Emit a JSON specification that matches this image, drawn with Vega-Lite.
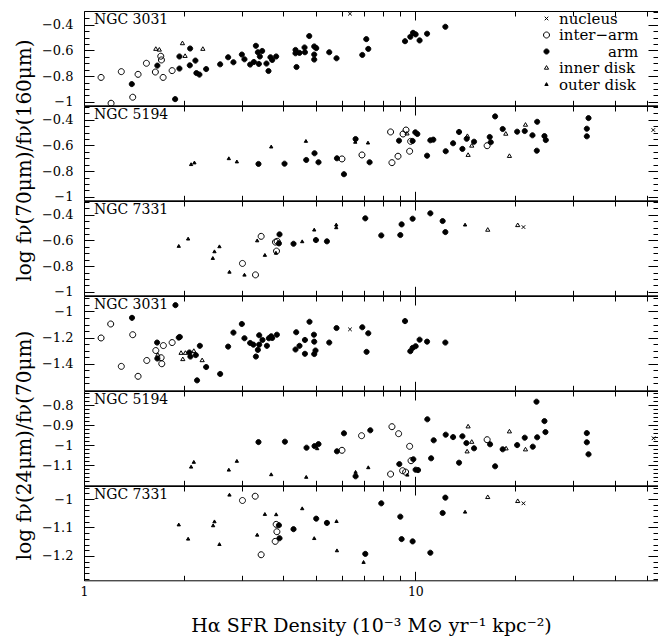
{
"$schema":"https://vega.github.io/schema/vega-lite/v6.json",
"padding":{"left":13,"right":1,"top":9,"bottom":0},
"background":"white",
"spacing":0,
"bounds":"flush",
"config":{"view":{"stroke":"black","strokeWidth":1},"axis":{"grid":false,"domain":false,"tickColor":"black","tickWidth":1,"labelColor":"black","titleColor":"black","labelFont":"DejaVu Serif","titleFont":"DejaVu Serif","titleFontWeight":"normal","labelOverlap":false,"labelBound":false}},
"resolve":{"scale":{"x":"independent","y":"independent","shape":"independent","fill":"independent"}},
"datasets":{"pts":[
{"p":1,"t":"inter−arm","x":1.126,"y":-0.81},{"p":1,"t":"inter−arm","x":1.207,"y":-1.011},{"p":1,"t":"inter−arm","x":1.296,"y":-0.765},{"p":1,"t":"inter−arm","x":1.403,"y":-0.964},{"p":1,"t":"inter−arm","x":1.456,"y":-0.786},{"p":1,"t":"inter−arm","x":1.543,"y":-0.7},{"p":1,"t":"inter−arm","x":1.642,"y":-0.768},{"p":1,"t":"inter−arm","x":1.705,"y":-0.645},{"p":1,"t":"inter−arm","x":1.713,"y":-0.674},{"p":1,"t":"inter−arm","x":1.733,"y":-0.81},{"p":1,"t":"inter−arm","x":1.845,"y":-0.757},
{"p":1,"t":"arm","x":1.394,"y":-0.862},{"p":1,"t":"arm","x":1.665,"y":-0.718},{"p":1,"t":"arm","x":1.884,"y":-0.979},{"p":1,"t":"arm","x":1.941,"y":-0.741},{"p":1,"t":"arm","x":1.941,"y":-0.647},{"p":1,"t":"arm","x":2.091,"y":-0.585},{"p":1,"t":"arm","x":2.086,"y":-0.716},{"p":1,"t":"arm","x":2.169,"y":-0.679},{"p":1,"t":"arm","x":2.184,"y":-0.776},{"p":1,"t":"arm","x":2.23,"y":-0.788},{"p":1,"t":"arm","x":2.337,"y":-0.745},{"p":1,"t":"arm","x":2.576,"y":-0.708},{"p":1,"t":"arm","x":2.723,"y":-0.653},{"p":1,"t":"arm","x":2.825,"y":-0.692},{"p":1,"t":"arm","x":2.995,"y":-0.632},{"p":1,"t":"arm","x":3.05,"y":-0.669},{"p":1,"t":"arm","x":3.173,"y":-0.71},{"p":1,"t":"arm","x":3.256,"y":-0.69},{"p":1,"t":"arm","x":3.302,"y":-0.564},{"p":1,"t":"arm","x":3.348,"y":-0.614},{"p":1,"t":"arm","x":3.371,"y":-0.705},{"p":1,"t":"arm","x":3.394,"y":-0.647},{"p":1,"t":"arm","x":3.449,"y":-0.604},{"p":1,"t":"arm","x":3.554,"y":-0.702},{"p":1,"t":"arm","x":3.604,"y":-0.76},{"p":1,"t":"arm","x":3.654,"y":-0.653},{"p":1,"t":"arm","x":3.698,"y":-0.674},{"p":1,"t":"arm","x":3.802,"y":-0.647},{"p":1,"t":"arm","x":4.349,"y":-0.596},{"p":1,"t":"arm","x":4.349,"y":-0.622},{"p":1,"t":"arm","x":4.379,"y":-0.729},{"p":1,"t":"arm","x":4.471,"y":-0.619},{"p":1,"t":"arm","x":4.63,"y":-0.577},{"p":1,"t":"arm","x":4.643,"y":-0.614},{"p":1,"t":"arm","x":4.784,"y":-0.488},{"p":1,"t":"arm","x":4.953,"y":-0.569},{"p":1,"t":"arm","x":4.953,"y":-0.632},{"p":1,"t":"arm","x":4.953,"y":-0.671},{"p":1,"t":"arm","x":5.022,"y":-0.582},{"p":1,"t":"arm","x":5.498,"y":-0.614},{"p":1,"t":"arm","x":5.783,"y":-0.661},{"p":1,"t":"arm","x":6.917,"y":-0.635},{"p":1,"t":"arm","x":7.112,"y":-0.512},{"p":1,"t":"arm","x":7.211,"y":-0.588},{"p":1,"t":"arm","x":9.309,"y":-0.528},{"p":1,"t":"arm","x":9.658,"y":-0.494},{"p":1,"t":"arm","x":9.842,"y":-0.463},{"p":1,"t":"arm","x":10.02,"y":-0.475},{"p":1,"t":"arm","x":10.3,"y":-0.522},{"p":1,"t":"arm","x":10.85,"y":-0.47},{"p":1,"t":"arm","x":12.32,"y":-0.416},
{"p":1,"t":"inner disk","x":1.647,"y":-0.59},{"p":1,"t":"inner disk","x":1.688,"y":-0.596},{"p":1,"t":"inner disk","x":1.982,"y":-0.546},{"p":1,"t":"inner disk","x":2.019,"y":-0.645},{"p":1,"t":"inner disk","x":2.284,"y":-0.59},
{"p":1,"t":"nucleus","x":6.35,"y":-0.314},
{"p":2,"t":"outer disk","x":2.105,"y":-0.749},{"p":2,"t":"outer disk","x":2.154,"y":-0.736},{"p":2,"t":"outer disk","x":2.736,"y":-0.703},{"p":2,"t":"outer disk","x":2.893,"y":-0.728},{"p":2,"t":"outer disk","x":3.673,"y":-0.612},{"p":2,"t":"outer disk","x":4.675,"y":-0.568},{"p":2,"t":"outer disk","x":6.588,"y":-0.575},{"p":2,"t":"outer disk","x":7.196,"y":-0.581},
{"p":2,"t":"arm","x":3.362,"y":-0.744},{"p":2,"t":"arm","x":4.029,"y":-0.742},{"p":2,"t":"arm","x":4.685,"y":-0.713},{"p":2,"t":"arm","x":4.963,"y":-0.661},{"p":2,"t":"arm","x":5.102,"y":-0.731},{"p":2,"t":"arm","x":5.8,"y":-0.7},{"p":2,"t":"arm","x":6.09,"y":-0.824},{"p":2,"t":"arm","x":6.602,"y":-0.55},{"p":2,"t":"arm","x":7.277,"y":-0.731},{"p":2,"t":"arm","x":8.928,"y":-0.563},{"p":2,"t":"arm","x":9.813,"y":-0.565},{"p":2,"t":"arm","x":10.0,"y":-0.498},{"p":2,"t":"arm","x":10.14,"y":-0.511},{"p":2,"t":"arm","x":10.85,"y":-0.68},{"p":2,"t":"arm","x":11.1,"y":-0.56},{"p":2,"t":"arm","x":11.33,"y":-0.555},{"p":2,"t":"arm","x":12.35,"y":-0.645},{"p":2,"t":"arm","x":13.0,"y":-0.583},{"p":2,"t":"arm","x":13.55,"y":-0.495},{"p":2,"t":"arm","x":13.87,"y":-0.627},{"p":2,"t":"arm","x":14.29,"y":-0.548},{"p":2,"t":"arm","x":15.04,"y":-0.571},{"p":2,"t":"arm","x":16.77,"y":-0.534},{"p":2,"t":"arm","x":16.89,"y":-0.575},{"p":2,"t":"arm","x":17.41,"y":-0.374},{"p":2,"t":"arm","x":18.35,"y":-0.472},{"p":2,"t":"arm","x":20.29,"y":-0.493},{"p":2,"t":"arm","x":21.39,"y":-0.488},{"p":2,"t":"arm","x":22.57,"y":-0.521},{"p":2,"t":"arm","x":23.26,"y":-0.641},{"p":2,"t":"arm","x":23.32,"y":-0.416},{"p":2,"t":"arm","x":24.53,"y":-0.527},{"p":2,"t":"arm","x":24.76,"y":-0.558},{"p":2,"t":"arm","x":33.32,"y":-0.387},{"p":2,"t":"arm","x":32.93,"y":-0.47},{"p":2,"t":"arm","x":32.93,"y":-0.529},
{"p":2,"t":"inter−arm","x":6.006,"y":-0.705},{"p":2,"t":"inter−arm","x":6.902,"y":-0.674},{"p":2,"t":"inter−arm","x":8.42,"y":-0.495},{"p":2,"t":"inter−arm","x":8.5,"y":-0.734},{"p":2,"t":"inter−arm","x":8.866,"y":-0.684},{"p":2,"t":"inter−arm","x":9.18,"y":-0.511},{"p":2,"t":"inter−arm","x":9.373,"y":-0.48},{"p":2,"t":"inter−arm","x":9.612,"y":-0.645},{"p":2,"t":"inter−arm","x":9.679,"y":-0.568},{"p":2,"t":"inter−arm","x":16.47,"y":-0.602},
{"p":2,"t":"inner disk","x":9.438,"y":-0.509},{"p":2,"t":"inner disk","x":14.36,"y":-0.529},{"p":2,"t":"inner disk","x":14.8,"y":-0.604},{"p":2,"t":"inner disk","x":14.43,"y":-0.676},{"p":2,"t":"inner disk","x":18.75,"y":-0.511},{"p":2,"t":"inner disk","x":19.23,"y":-0.684},{"p":2,"t":"inner disk","x":21.5,"y":-0.441},
{"p":2,"t":"nucleus","x":52.26,"y":-0.48},
{"p":3,"t":"outer disk","x":1.932,"y":-0.646},{"p":3,"t":"outer disk","x":2.062,"y":-0.589},{"p":3,"t":"outer disk","x":2.448,"y":-0.74},{"p":3,"t":"outer disk","x":2.476,"y":-0.688},{"p":3,"t":"outer disk","x":2.563,"y":-0.649},{"p":3,"t":"outer disk","x":2.748,"y":-0.847},{"p":3,"t":"outer disk","x":3.05,"y":-0.87},{"p":3,"t":"outer disk","x":3.332,"y":-0.603},{"p":3,"t":"outer disk","x":3.515,"y":-0.716},{"p":3,"t":"outer disk","x":3.795,"y":-0.699},{"p":3,"t":"outer disk","x":4.556,"y":-0.61},{"p":3,"t":"outer disk","x":4.953,"y":-0.519},{"p":3,"t":"outer disk","x":5.772,"y":-0.48},{"p":3,"t":"outer disk","x":5.772,"y":-0.501},{"p":3,"t":"outer disk","x":14.13,"y":-0.48},
{"p":3,"t":"inter−arm","x":3.008,"y":-0.779},{"p":3,"t":"inter−arm","x":3.293,"y":-0.868},{"p":3,"t":"inter−arm","x":3.425,"y":-0.568},{"p":3,"t":"inter−arm","x":3.784,"y":-0.613},{"p":3,"t":"inter−arm","x":3.811,"y":-0.683},{"p":3,"t":"inter−arm","x":3.83,"y":-0.607},
{"p":3,"t":"arm","x":3.891,"y":-0.553},{"p":3,"t":"arm","x":3.875,"y":-0.623},{"p":3,"t":"arm","x":4.289,"y":-0.626},{"p":3,"t":"arm","x":5.012,"y":-0.597},{"p":3,"t":"arm","x":5.41,"y":-0.607},{"p":3,"t":"arm","x":7.063,"y":-0.428},{"p":3,"t":"arm","x":7.893,"y":-0.561},{"p":3,"t":"arm","x":9.009,"y":-0.558},{"p":3,"t":"arm","x":9.091,"y":-0.475},{"p":3,"t":"arm","x":9.813,"y":-0.431},{"p":3,"t":"arm","x":11.1,"y":-0.389},{"p":3,"t":"arm","x":12.09,"y":-0.449},{"p":3,"t":"arm","x":12.32,"y":-0.535},
{"p":3,"t":"inner disk","x":16.54,"y":-0.519},{"p":3,"t":"inner disk","x":20.37,"y":-0.483},
{"p":3,"t":"nucleus","x":21.2,"y":-0.496},
{"p":4,"t":"inter−arm","x":1.126,"y":-1.203},{"p":4,"t":"inter−arm","x":1.204,"y":-1.096},{"p":4,"t":"inter−arm","x":1.296,"y":-1.42},{"p":4,"t":"inter−arm","x":1.403,"y":-1.178},{"p":4,"t":"inter−arm","x":1.456,"y":-1.496},{"p":4,"t":"inter−arm","x":1.547,"y":-1.375},{"p":4,"t":"inter−arm","x":1.647,"y":-1.299},{"p":4,"t":"inter−arm","x":1.709,"y":-1.354},{"p":4,"t":"inter−arm","x":1.717,"y":-1.4},{"p":4,"t":"inter−arm","x":1.736,"y":-1.261},{"p":4,"t":"inter−arm","x":1.845,"y":-1.238},
{"p":4,"t":"arm","x":1.396,"y":-1.049},{"p":4,"t":"arm","x":1.888,"y":-0.952},{"p":4,"t":"arm","x":1.662,"y":-1.238},{"p":4,"t":"arm","x":1.665,"y":-1.36},{"p":4,"t":"arm","x":1.932,"y":-1.2},{"p":4,"t":"arm","x":1.946,"y":-1.195},{"p":4,"t":"arm","x":2.08,"y":-1.314},{"p":4,"t":"arm","x":2.095,"y":-1.345},{"p":4,"t":"arm","x":2.175,"y":-1.334},{"p":4,"t":"arm","x":2.237,"y":-1.263},{"p":4,"t":"arm","x":2.337,"y":-1.425},{"p":4,"t":"arm","x":2.194,"y":-1.527},{"p":4,"t":"arm","x":2.576,"y":-1.478},{"p":4,"t":"arm","x":2.723,"y":-1.269},{"p":4,"t":"arm","x":2.825,"y":-1.162},{"p":4,"t":"arm","x":2.995,"y":-1.096},{"p":4,"t":"arm","x":3.05,"y":-1.205},{"p":4,"t":"arm","x":3.173,"y":-1.241},{"p":4,"t":"arm","x":3.246,"y":-1.254},{"p":4,"t":"arm","x":3.302,"y":-1.345},{"p":4,"t":"arm","x":3.348,"y":-1.294},{"p":4,"t":"arm","x":3.379,"y":-1.182},{"p":4,"t":"arm","x":3.379,"y":-1.254},{"p":4,"t":"arm","x":3.457,"y":-1.218},{"p":4,"t":"arm","x":3.565,"y":-1.263},{"p":4,"t":"arm","x":3.614,"y":-1.205},{"p":4,"t":"arm","x":3.673,"y":-1.19},{"p":4,"t":"arm","x":3.698,"y":-1.203},{"p":4,"t":"arm","x":3.821,"y":-1.178},{"p":4,"t":"arm","x":4.37,"y":-1.159},{"p":4,"t":"arm","x":4.349,"y":-1.291},{"p":4,"t":"arm","x":4.471,"y":-1.263},{"p":4,"t":"arm","x":4.643,"y":-1.218},{"p":4,"t":"arm","x":4.643,"y":-1.324},{"p":4,"t":"arm","x":4.793,"y":-1.079},{"p":4,"t":"arm","x":4.943,"y":-1.178},{"p":4,"t":"arm","x":4.953,"y":-1.231},{"p":4,"t":"arm","x":4.997,"y":-1.299},{"p":4,"t":"arm","x":4.953,"y":-1.326},{"p":4,"t":"arm","x":5.498,"y":-1.238},{"p":4,"t":"arm","x":5.783,"y":-1.127},{"p":4,"t":"arm","x":6.917,"y":-1.121},{"p":4,"t":"arm","x":7.211,"y":-1.167},{"p":4,"t":"arm","x":7.126,"y":-1.309},{"p":4,"t":"arm","x":9.309,"y":-1.074},{"p":4,"t":"arm","x":9.658,"y":-1.304},{"p":4,"t":"arm","x":9.813,"y":-1.279},{"p":4,"t":"arm","x":10.02,"y":-1.266},{"p":4,"t":"arm","x":10.3,"y":-1.216},{"p":4,"t":"arm","x":10.85,"y":-1.231},{"p":4,"t":"arm","x":12.32,"y":-1.238},
{"p":4,"t":"inner disk","x":1.67,"y":-1.334},{"p":4,"t":"inner disk","x":1.963,"y":-1.319},{"p":4,"t":"inner disk","x":1.987,"y":-1.367},{"p":4,"t":"inner disk","x":2.023,"y":-1.319},{"p":4,"t":"inner disk","x":2.145,"y":-1.304},{"p":4,"t":"inner disk","x":2.273,"y":-1.375},
{"p":4,"t":"nucleus","x":6.35,"y":-1.137},
{"p":5,"t":"outer disk","x":2.105,"y":-1.109},{"p":5,"t":"outer disk","x":2.145,"y":-1.085},{"p":5,"t":"outer disk","x":2.736,"y":-1.124},{"p":5,"t":"outer disk","x":2.893,"y":-1.08},{"p":5,"t":"outer disk","x":3.673,"y":-1.147},{"p":5,"t":"outer disk","x":4.685,"y":-1.16},{"p":5,"t":"outer disk","x":5.057,"y":-1.017},{"p":5,"t":"outer disk","x":6.602,"y":-1.135},{"p":5,"t":"outer disk","x":7.211,"y":-1.112},{"p":5,"t":"outer disk","x":9.459,"y":-1.149},
{"p":5,"t":"arm","x":3.362,"y":-0.984},{"p":5,"t":"arm","x":4.04,"y":-0.982},{"p":5,"t":"arm","x":4.695,"y":-1.012},{"p":5,"t":"arm","x":4.963,"y":-1.004},{"p":5,"t":"arm","x":5.102,"y":-0.994},{"p":5,"t":"arm","x":5.8,"y":-1.03},{"p":5,"t":"arm","x":6.09,"y":-0.94},{"p":5,"t":"arm","x":6.602,"y":-1.155},{"p":5,"t":"arm","x":7.313,"y":-0.925},{"p":5,"t":"arm","x":8.946,"y":-1.094},{"p":5,"t":"arm","x":9.862,"y":-1.07},{"p":5,"t":"arm","x":10.02,"y":-1.122},{"p":5,"t":"arm","x":10.19,"y":-1.124},{"p":5,"t":"arm","x":10.87,"y":-0.87},{"p":5,"t":"arm","x":11.16,"y":-1.065},{"p":5,"t":"arm","x":11.36,"y":-0.975},{"p":5,"t":"arm","x":12.35,"y":-0.947},{"p":5,"t":"arm","x":13.0,"y":-0.959},{"p":5,"t":"arm","x":13.55,"y":-1.087},{"p":5,"t":"arm","x":13.87,"y":-0.955},{"p":5,"t":"arm","x":14.26,"y":-0.989},{"p":5,"t":"arm","x":15.04,"y":-1.015},{"p":5,"t":"arm","x":16.81,"y":-0.995},{"p":5,"t":"arm","x":17.41,"y":-1.105},{"p":5,"t":"arm","x":18.35,"y":-1.02},{"p":5,"t":"arm","x":20.29,"y":-0.999},{"p":5,"t":"arm","x":21.39,"y":-0.962},{"p":5,"t":"arm","x":22.62,"y":-1.007},{"p":5,"t":"arm","x":23.21,"y":-0.782},{"p":5,"t":"arm","x":23.32,"y":-0.96},{"p":5,"t":"arm","x":24.53,"y":-0.879},{"p":5,"t":"arm","x":24.7,"y":-0.934},{"p":5,"t":"arm","x":32.93,"y":-0.939},{"p":5,"t":"arm","x":32.93,"y":-0.985},{"p":5,"t":"arm","x":33.32,"y":-1.045},
{"p":5,"t":"inter−arm","x":6.006,"y":-1.025},{"p":5,"t":"inter−arm","x":6.882,"y":-0.952},{"p":5,"t":"inter−arm","x":8.5,"y":-0.907},{"p":5,"t":"inter−arm","x":8.903,"y":-0.942},{"p":5,"t":"inter−arm","x":8.42,"y":-1.144},{"p":5,"t":"inter−arm","x":9.612,"y":-1.005},{"p":5,"t":"inter−arm","x":9.706,"y":-1.077},{"p":5,"t":"inter−arm","x":9.155,"y":-1.127},{"p":5,"t":"inter−arm","x":9.348,"y":-1.134},{"p":5,"t":"inter−arm","x":16.47,"y":-0.972},
{"p":5,"t":"inner disk","x":14.43,"y":-0.907},{"p":5,"t":"inner disk","x":14.8,"y":-0.984},{"p":5,"t":"inner disk","x":14.33,"y":-1.032},{"p":5,"t":"inner disk","x":18.79,"y":-1.017},{"p":5,"t":"inner disk","x":19.23,"y":-0.932},{"p":5,"t":"inner disk","x":21.5,"y":-1.022},
{"p":5,"t":"nucleus","x":52.36,"y":-0.965},
{"p":6,"t":"outer disk","x":1.932,"y":-1.091},{"p":6,"t":"outer disk","x":2.062,"y":-1.141},{"p":6,"t":"outer disk","x":2.453,"y":-1.094},{"p":6,"t":"outer disk","x":2.476,"y":-1.08},{"p":6,"t":"outer disk","x":2.563,"y":-1.16},{"p":6,"t":"outer disk","x":2.748,"y":-0.986},{"p":6,"t":"outer disk","x":3.332,"y":-1.127},{"p":6,"t":"outer disk","x":3.515,"y":-1.054},{"p":6,"t":"outer disk","x":3.802,"y":-1.055},{"p":6,"t":"outer disk","x":4.556,"y":-1.034},{"p":6,"t":"outer disk","x":4.953,"y":-1.139},{"p":6,"t":"outer disk","x":5.783,"y":-1.079},{"p":6,"t":"outer disk","x":5.8,"y":-1.182},{"p":6,"t":"outer disk","x":6.979,"y":-1.223},{"p":6,"t":"outer disk","x":14.13,"y":-1.046},
{"p":6,"t":"inter−arm","x":3.008,"y":-1.005},{"p":6,"t":"inter−arm","x":3.286,"y":-0.99},{"p":6,"t":"inter−arm","x":3.425,"y":-1.196},{"p":6,"t":"inter−arm","x":3.802,"y":-1.089},{"p":6,"t":"inter−arm","x":3.821,"y":-1.115},{"p":6,"t":"inter−arm","x":3.776,"y":-1.149},
{"p":6,"t":"arm","x":3.875,"y":-1.092},{"p":6,"t":"arm","x":3.891,"y":-1.138},{"p":6,"t":"arm","x":4.289,"y":-1.106},{"p":6,"t":"arm","x":5.022,"y":-1.069},{"p":6,"t":"arm","x":5.41,"y":-1.084},{"p":6,"t":"arm","x":7.063,"y":-1.193},{"p":6,"t":"arm","x":7.893,"y":-1.015},{"p":6,"t":"arm","x":9.009,"y":-1.062},{"p":6,"t":"arm","x":9.091,"y":-1.141},{"p":6,"t":"arm","x":9.813,"y":-1.149},{"p":6,"t":"arm","x":11.1,"y":-1.189},{"p":6,"t":"arm","x":12.09,"y":-1.049},{"p":6,"t":"arm","x":12.32,"y":-0.995},
{"p":6,"t":"inner disk","x":16.54,"y":-0.994},{"p":6,"t":"inner disk","x":20.37,"y":-1.008},
{"p":6,"t":"nucleus","x":21.2,"y":-1.015}
]},
"vconcat":[
{"width":574,"height":94.3,"resolve":{"axis":{"x":"independent","y":"independent"}},"layer":[
{"data":{"name":"pts"},"transform":[{"filter":"datum.p==1"}],"mark":{"type":"point","filled":true,"opacity":1,"stroke":"black","strokeWidth":1,"size":36},
"encoding":{
"x":{"field":"x","type":"quantitative","scale":{"type":"log","domain":[1,54],"nice":false},"axis":{"orient":"bottom","values":[1,2,3,4,5,6,7,8,9,10,20,30,40,50],"labels":false,"tickSize":{"condition":{"test":"datum.value==1||datum.value==10","value":-9},"value":-5},"title":null}},
"y":{"field":"y","type":"quantitative","scale":{"domain":[-1.027,-0.293],"nice":false,"zero":false},"axis":{"orient":"left","values":[-1,-0.95,-0.9,-0.85,-0.8,-0.75,-0.7,-0.65,-0.6,-0.55,-0.5,-0.45,-0.4,-0.35],"labelExpr":"abs(datum.value*5-round(datum.value*5))<0.001?format(datum.value,'~g'):''","labelFontSize":13,"labelPadding":21,"tickSize":{"condition":{"test":"abs(datum.value*5-round(datum.value*5))<0.001","value":-10},"value":-5},"title":null}},
"shape":{"field":"t","type":"nominal","scale":{"domain":["nucleus","inter−arm","arm","inner disk","outer disk"],"range":["M-0.6,-0.6L0.6,0.6M0.6,-0.6L-0.6,0.6","M1,0A1,1,0,1,1,-1,0A1,1,0,1,1,1,0Z","M0.85,0A0.85,0.85,0,1,1,-0.85,0A0.85,0.85,0,1,1,0.85,0Z","M0,-0.8L0.7,0.4L-0.7,0.4Z","M0,-0.62L0.55,0.33L-0.55,0.33Z"]},"legend":{"orient":"none","legendX":455,"legendY":0,"title":null,"padding":0,"rowPadding":0.5,"labelFont":"DejaVu Serif","labelFontSize":15,"labelColor":"black","labelOffset":5,"symbolSize":36,"symbolStrokeColor":"black","symbolStrokeWidth":1,"symbolOpacity":1,"encode":{"symbols":{"update":{"stroke":{"value":"black"},"strokeWidth":{"value":1}}},"labels":{"update":{"dx":{"signal":"datum.value=='arm'?49:0"}}}}}},
"fill":{"field":"t","type":"nominal","scale":{"domain":["nucleus","inter−arm","arm","inner disk","outer disk"],"range":["black","transparent","black","transparent","black"]},"legend":{"orient":"none","legendX":455,"legendY":0,"title":null,"padding":0,"rowPadding":0.5,"labelFont":"DejaVu Serif","labelFontSize":15,"labelColor":"black","labelOffset":5,"symbolSize":36,"symbolStrokeColor":"black","symbolStrokeWidth":1,"symbolOpacity":1,"encode":{"symbols":{"update":{"stroke":{"value":"black"},"strokeWidth":{"value":1}}},"labels":{"update":{"dx":{"signal":"datum.value=='arm'?49:0"}}}}}}
}},
{"data":{"values":[{"n":"NGC 3031"}]},"mark":{"type":"text","align":"left","baseline":"alphabetic","dx":10,"dy":13,"font":"DejaVu Serif","fontSize":14,"fill":"black"},
"encoding":{
"x":{"datum":1,"type":"quantitative","scale":{"type":"log","domain":[1,54],"nice":false},"axis":{"orient":"top","values":[1,2,3,4,5,6,7,8,9,10,20,30,40,50],"labels":false,"tickSize":{"condition":{"test":"datum.value==1||datum.value==10","value":-9},"value":-5},"title":null}},
"y":{"datum":-0.293,"type":"quantitative","scale":{"domain":[-1.027,-0.293],"nice":false,"zero":false},"axis":{"orient":"right","values":[-1,-0.95,-0.9,-0.85,-0.8,-0.75,-0.7,-0.65,-0.6,-0.55,-0.5,-0.45,-0.4,-0.35,-0.3],"labels":false,"tickSize":{"condition":{"test":"abs(datum.value*5-round(datum.value*5))<0.001","value":-10},"value":-5},"title":null}},
"text":{"field":"n"}}}
]},
{"width":574,"height":94.3,"resolve":{"axis":{"x":"independent","y":"independent"}},"layer":[
{"data":{"name":"pts"},"transform":[{"filter":"datum.p==2"}],"mark":{"type":"point","filled":true,"opacity":1,"stroke":"black","strokeWidth":1,"size":36},
"encoding":{
"x":{"field":"x","type":"quantitative","scale":{"type":"log","domain":[1,54],"nice":false},"axis":{"orient":"bottom","values":[1,2,3,4,5,6,7,8,9,10,20,30,40,50],"labels":false,"tickSize":{"condition":{"test":"datum.value==1||datum.value==10","value":-9},"value":-5},"title":null}},
"y":{"field":"y","type":"quantitative","scale":{"domain":[-1.027,-0.293],"nice":false,"zero":false},"axis":{"orient":"left","values":[-1,-0.95,-0.9,-0.85,-0.8,-0.75,-0.7,-0.65,-0.6,-0.55,-0.5,-0.45,-0.4,-0.35,-0.3],"labelExpr":"abs(datum.value*5-round(datum.value*5))<0.001?format(datum.value,'~g'):''","labelFontSize":13,"labelPadding":21,"tickSize":{"condition":{"test":"abs(datum.value*5-round(datum.value*5))<0.001","value":-10},"value":-5},"title":"log fν(70μm)/fν(160μm)","titleFontSize":20,"titlePadding":7,"titleY":54}},
"shape":{"field":"t","type":"nominal","scale":{"domain":["nucleus","inter−arm","arm","inner disk","outer disk"],"range":["M-0.6,-0.6L0.6,0.6M0.6,-0.6L-0.6,0.6","M1,0A1,1,0,1,1,-1,0A1,1,0,1,1,1,0Z","M0.85,0A0.85,0.85,0,1,1,-0.85,0A0.85,0.85,0,1,1,0.85,0Z","M0,-0.8L0.7,0.4L-0.7,0.4Z","M0,-0.62L0.55,0.33L-0.55,0.33Z"]},"legend":null},
"fill":{"field":"t","type":"nominal","scale":{"domain":["nucleus","inter−arm","arm","inner disk","outer disk"],"range":["black","transparent","black","transparent","black"]},"legend":null}
}},
{"data":{"values":[{"n":"NGC 5194"}]},"mark":{"type":"text","align":"left","baseline":"alphabetic","dx":10,"dy":13,"font":"DejaVu Serif","fontSize":14,"fill":"black"},
"encoding":{
"x":{"datum":1,"type":"quantitative","scale":{"type":"log","domain":[1,54],"nice":false},"axis":{"orient":"top","values":[1,2,3,4,5,6,7,8,9,10,20,30,40,50],"labels":false,"tickSize":{"condition":{"test":"datum.value==1||datum.value==10","value":-9},"value":-5},"title":null}},
"y":{"datum":-0.293,"type":"quantitative","scale":{"domain":[-1.027,-0.293],"nice":false,"zero":false},"axis":{"orient":"right","values":[-1,-0.95,-0.9,-0.85,-0.8,-0.75,-0.7,-0.65,-0.6,-0.55,-0.5,-0.45,-0.4,-0.35,-0.3],"labels":false,"tickSize":{"condition":{"test":"abs(datum.value*5-round(datum.value*5))<0.001","value":-10},"value":-5},"title":null}},
"text":{"field":"n"}}}
]},
{"width":574,"height":94.3,"resolve":{"axis":{"x":"independent","y":"independent"}},"layer":[
{"data":{"name":"pts"},"transform":[{"filter":"datum.p==3"}],"mark":{"type":"point","filled":true,"opacity":1,"stroke":"black","strokeWidth":1,"size":36},
"encoding":{
"x":{"field":"x","type":"quantitative","scale":{"type":"log","domain":[1,54],"nice":false},"axis":{"orient":"bottom","values":[1,2,3,4,5,6,7,8,9,10,20,30,40,50],"labels":false,"tickSize":{"condition":{"test":"datum.value==1||datum.value==10","value":-9},"value":-5},"title":null}},
"y":{"field":"y","type":"quantitative","scale":{"domain":[-1.027,-0.293],"nice":false,"zero":false},"axis":{"orient":"left","values":[-1,-0.95,-0.9,-0.85,-0.8,-0.75,-0.7,-0.65,-0.6,-0.55,-0.5,-0.45,-0.4,-0.35,-0.3],"labelExpr":"abs(datum.value*5-round(datum.value*5))<0.001?format(datum.value,'~g'):''","labelFontSize":13,"labelPadding":21,"tickSize":{"condition":{"test":"abs(datum.value*5-round(datum.value*5))<0.001","value":-10},"value":-5},"title":null}},
"shape":{"field":"t","type":"nominal","scale":{"domain":["nucleus","inter−arm","arm","inner disk","outer disk"],"range":["M-0.6,-0.6L0.6,0.6M0.6,-0.6L-0.6,0.6","M1,0A1,1,0,1,1,-1,0A1,1,0,1,1,1,0Z","M0.85,0A0.85,0.85,0,1,1,-0.85,0A0.85,0.85,0,1,1,0.85,0Z","M0,-0.8L0.7,0.4L-0.7,0.4Z","M0,-0.62L0.55,0.33L-0.55,0.33Z"]},"legend":null},
"fill":{"field":"t","type":"nominal","scale":{"domain":["nucleus","inter−arm","arm","inner disk","outer disk"],"range":["black","transparent","black","transparent","black"]},"legend":null}
}},
{"data":{"values":[{"n":"NGC 7331"}]},"mark":{"type":"text","align":"left","baseline":"alphabetic","dx":10,"dy":13,"font":"DejaVu Serif","fontSize":14,"fill":"black"},
"encoding":{
"x":{"datum":1,"type":"quantitative","scale":{"type":"log","domain":[1,54],"nice":false},"axis":{"orient":"top","values":[1,2,3,4,5,6,7,8,9,10,20,30,40,50],"labels":false,"tickSize":{"condition":{"test":"datum.value==1||datum.value==10","value":-9},"value":-5},"title":null}},
"y":{"datum":-0.293,"type":"quantitative","scale":{"domain":[-1.027,-0.293],"nice":false,"zero":false},"axis":{"orient":"right","values":[-1,-0.95,-0.9,-0.85,-0.8,-0.75,-0.7,-0.65,-0.6,-0.55,-0.5,-0.45,-0.4,-0.35,-0.3],"labels":false,"tickSize":{"condition":{"test":"abs(datum.value*5-round(datum.value*5))<0.001","value":-10},"value":-5},"title":null}},
"text":{"field":"n"}}}
]},
{"width":574,"height":94.3,"resolve":{"axis":{"x":"independent","y":"independent"}},"layer":[
{"data":{"name":"pts"},"transform":[{"filter":"datum.p==4"}],"mark":{"type":"point","filled":true,"opacity":1,"stroke":"black","strokeWidth":1,"size":36},
"encoding":{
"x":{"field":"x","type":"quantitative","scale":{"type":"log","domain":[1,54],"nice":false},"axis":{"orient":"bottom","values":[1,2,3,4,5,6,7,8,9,10,20,30,40,50],"labels":false,"tickSize":{"condition":{"test":"datum.value==1||datum.value==10","value":-9},"value":-5},"title":null}},
"y":{"field":"y","type":"quantitative","scale":{"domain":[-1.603,-0.882],"nice":false,"zero":false},"axis":{"orient":"left","values":[-1.55,-1.5,-1.45,-1.4,-1.35,-1.3,-1.25,-1.2,-1.15,-1.1,-1.05,-1,-0.95,-0.9],"labelExpr":"abs(datum.value*5-round(datum.value*5))<0.001?format(datum.value,'~g'):''","labelFontSize":13,"labelPadding":21,"tickSize":{"condition":{"test":"abs(datum.value*5-round(datum.value*5))<0.001","value":-10},"value":-5},"title":null}},
"shape":{"field":"t","type":"nominal","scale":{"domain":["nucleus","inter−arm","arm","inner disk","outer disk"],"range":["M-0.6,-0.6L0.6,0.6M0.6,-0.6L-0.6,0.6","M1,0A1,1,0,1,1,-1,0A1,1,0,1,1,1,0Z","M0.85,0A0.85,0.85,0,1,1,-0.85,0A0.85,0.85,0,1,1,0.85,0Z","M0,-0.8L0.7,0.4L-0.7,0.4Z","M0,-0.62L0.55,0.33L-0.55,0.33Z"]},"legend":null},
"fill":{"field":"t","type":"nominal","scale":{"domain":["nucleus","inter−arm","arm","inner disk","outer disk"],"range":["black","transparent","black","transparent","black"]},"legend":null}
}},
{"data":{"values":[{"n":"NGC 3031"}]},"mark":{"type":"text","align":"left","baseline":"alphabetic","dx":10,"dy":13,"font":"DejaVu Serif","fontSize":14,"fill":"black"},
"encoding":{
"x":{"datum":1,"type":"quantitative","scale":{"type":"log","domain":[1,54],"nice":false},"axis":{"orient":"top","values":[1,2,3,4,5,6,7,8,9,10,20,30,40,50],"labels":false,"tickSize":{"condition":{"test":"datum.value==1||datum.value==10","value":-9},"value":-5},"title":null}},
"y":{"datum":-0.882,"type":"quantitative","scale":{"domain":[-1.603,-0.882],"nice":false,"zero":false},"axis":{"orient":"right","values":[-1.55,-1.5,-1.45,-1.4,-1.35,-1.3,-1.25,-1.2,-1.15,-1.1,-1.05,-1,-0.95,-0.9],"labels":false,"tickSize":{"condition":{"test":"abs(datum.value*5-round(datum.value*5))<0.001","value":-10},"value":-5},"title":null}},
"text":{"field":"n"}}}
]},
{"width":574,"height":94.3,"resolve":{"axis":{"x":"independent","y":"independent"}},"layer":[
{"data":{"name":"pts"},"transform":[{"filter":"datum.p==5"}],"mark":{"type":"point","filled":true,"opacity":1,"stroke":"black","strokeWidth":1,"size":36},
"encoding":{
"x":{"field":"x","type":"quantitative","scale":{"type":"log","domain":[1,54],"nice":false},"axis":{"orient":"bottom","values":[1,2,3,4,5,6,7,8,9,10,20,30,40,50],"labels":false,"tickSize":{"condition":{"test":"datum.value==1||datum.value==10","value":-9},"value":-5},"title":null}},
"y":{"field":"y","type":"quantitative","scale":{"domain":[-1.2,-0.7285],"nice":false,"zero":false},"axis":{"orient":"left","values":[-1.18,-1.16,-1.14,-1.12,-1.1,-1.08,-1.06,-1.04,-1.02,-1,-0.98,-0.96,-0.94,-0.92,-0.9,-0.88,-0.86,-0.84,-0.82,-0.8,-0.78,-0.76,-0.74],"labelExpr":"abs(datum.value*10-round(datum.value*10))<0.001?format(datum.value,'~g'):''","labelFontSize":13,"labelPadding":21,"tickSize":{"condition":{"test":"abs(datum.value*10-round(datum.value*10))<0.001","value":-10},"value":-5},"title":"log fν(24μm)/fν(70μm)","titleFontSize":20,"titlePadding":7,"titleY":54}},
"shape":{"field":"t","type":"nominal","scale":{"domain":["nucleus","inter−arm","arm","inner disk","outer disk"],"range":["M-0.6,-0.6L0.6,0.6M0.6,-0.6L-0.6,0.6","M1,0A1,1,0,1,1,-1,0A1,1,0,1,1,1,0Z","M0.85,0A0.85,0.85,0,1,1,-0.85,0A0.85,0.85,0,1,1,0.85,0Z","M0,-0.8L0.7,0.4L-0.7,0.4Z","M0,-0.62L0.55,0.33L-0.55,0.33Z"]},"legend":null},
"fill":{"field":"t","type":"nominal","scale":{"domain":["nucleus","inter−arm","arm","inner disk","outer disk"],"range":["black","transparent","black","transparent","black"]},"legend":null}
}},
{"data":{"values":[{"n":"NGC 5194"}]},"mark":{"type":"text","align":"left","baseline":"alphabetic","dx":10,"dy":13,"font":"DejaVu Serif","fontSize":14,"fill":"black"},
"encoding":{
"x":{"datum":1,"type":"quantitative","scale":{"type":"log","domain":[1,54],"nice":false},"axis":{"orient":"top","values":[1,2,3,4,5,6,7,8,9,10,20,30,40,50],"labels":false,"tickSize":{"condition":{"test":"datum.value==1||datum.value==10","value":-9},"value":-5},"title":null}},
"y":{"datum":-0.7285,"type":"quantitative","scale":{"domain":[-1.2,-0.7285],"nice":false,"zero":false},"axis":{"orient":"right","values":[-1.18,-1.16,-1.14,-1.12,-1.1,-1.08,-1.06,-1.04,-1.02,-1,-0.98,-0.96,-0.94,-0.92,-0.9,-0.88,-0.86,-0.84,-0.82,-0.8,-0.78,-0.76,-0.74],"labels":false,"tickSize":{"condition":{"test":"abs(datum.value*10-round(datum.value*10))<0.001","value":-10},"value":-5},"title":null}},
"text":{"field":"n"}}}
]},
{"width":574,"height":94.3,"resolve":{"axis":{"x":"independent","y":"independent"}},"layer":[
{"data":{"name":"pts"},"transform":[{"filter":"datum.p==6"}],"mark":{"type":"point","filled":true,"opacity":1,"stroke":"black","strokeWidth":1,"size":36},
"encoding":{
"x":{"field":"x","type":"quantitative","scale":{"type":"log","domain":[1,54],"nice":false},"axis":{"orient":"bottom","values":[1,2,3,4,5,6,7,8,9,10,20,30,40,50],"labels":true,"labelExpr":"datum.value==1?'1':datum.value==10?'10':''","labelFontSize":12.5,"labelPadding":14,"labelFlush":false,"tickSize":{"condition":{"test":"datum.value==1||datum.value==10","value":-9},"value":-5},"title":"Hα SFR Density (10⁻³ M⊙ yr⁻¹ kpc⁻²)","titleFontSize":19,"titlePadding":15}},
"y":{"field":"y","type":"quantitative","scale":{"domain":[-1.286,-0.954],"nice":false,"zero":false},"axis":{"orient":"left","values":[-1.28,-1.26,-1.24,-1.22,-1.2,-1.18,-1.16,-1.14,-1.12,-1.1,-1.08,-1.06,-1.04,-1.02,-1,-0.98,-0.96],"labelExpr":"abs(datum.value*10-round(datum.value*10))<0.001?format(datum.value,'~g'):''","labelFontSize":13,"labelPadding":21,"tickSize":{"condition":{"test":"abs(datum.value*10-round(datum.value*10))<0.001","value":-10},"value":-5},"title":null}},
"shape":{"field":"t","type":"nominal","scale":{"domain":["nucleus","inter−arm","arm","inner disk","outer disk"],"range":["M-0.6,-0.6L0.6,0.6M0.6,-0.6L-0.6,0.6","M1,0A1,1,0,1,1,-1,0A1,1,0,1,1,1,0Z","M0.85,0A0.85,0.85,0,1,1,-0.85,0A0.85,0.85,0,1,1,0.85,0Z","M0,-0.8L0.7,0.4L-0.7,0.4Z","M0,-0.62L0.55,0.33L-0.55,0.33Z"]},"legend":null},
"fill":{"field":"t","type":"nominal","scale":{"domain":["nucleus","inter−arm","arm","inner disk","outer disk"],"range":["black","transparent","black","transparent","black"]},"legend":null}
}},
{"data":{"values":[{"n":"NGC 7331"}]},"mark":{"type":"text","align":"left","baseline":"alphabetic","dx":10,"dy":13,"font":"DejaVu Serif","fontSize":14,"fill":"black"},
"encoding":{
"x":{"datum":1,"type":"quantitative","scale":{"type":"log","domain":[1,54],"nice":false},"axis":{"orient":"top","values":[1,2,3,4,5,6,7,8,9,10,20,30,40,50],"labels":false,"tickSize":{"condition":{"test":"datum.value==1||datum.value==10","value":-9},"value":-5},"title":null}},
"y":{"datum":-0.954,"type":"quantitative","scale":{"domain":[-1.286,-0.954],"nice":false,"zero":false},"axis":{"orient":"right","values":[-1.28,-1.26,-1.24,-1.22,-1.2,-1.18,-1.16,-1.14,-1.12,-1.1,-1.08,-1.06,-1.04,-1.02,-1,-0.98,-0.96],"labels":false,"tickSize":{"condition":{"test":"abs(datum.value*10-round(datum.value*10))<0.001","value":-10},"value":-5},"title":null}},
"text":{"field":"n"}}}
]}
]
}
